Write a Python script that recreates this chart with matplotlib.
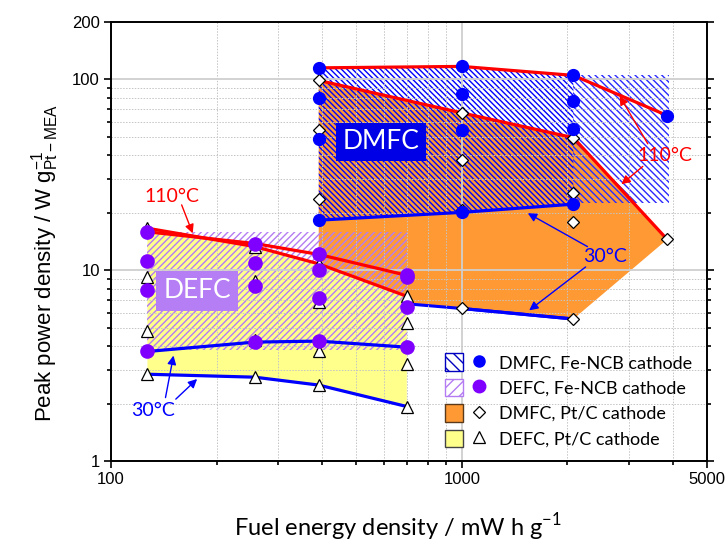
import matplotlib
matplotlib.use('Agg')
import matplotlib.pyplot as plt
from matplotlib.patches import Polygon, Patch
from matplotlib.lines import Line2D
from matplotlib.legend_handler import HandlerTuple
from matplotlib.ticker import FixedLocator, FixedFormatter, NullFormatter

# ---------------- data ----------------
# DEFC (ethanol) fuel energy densities, mW h g-1
defc_x = [127, 257, 391, 697]
defc_fe_110 = [15.9, 13.8, 12.1, 9.4]
defc_fe_mid1 = [11.2, 10.9, 10.0, 9.2]
defc_fe_mid2 = [7.85, 8.27, 7.16, 6.38]
defc_fe_30 = [3.75, 4.20, 4.25, 3.95]
defc_pt_110 = [16.6, 13.3, 10.8, 7.3]
defc_pt_mid1 = [9.2, 8.75, 6.83, 5.26]
defc_pt_mid2 = [4.83, 4.32, 3.79, 3.21]
defc_pt_30 = [2.85, 2.75, 2.50, 1.93]
defc_fe_band = [3.8, 15.9]          # hatched Fe-NCB DEFC range

# DMFC (methanol)
dmfc_x = [391, 1000, 2080, 3850]
dmfc_fe_110 = [115, 117, 105, 64.7]
dmfc_fe_mid1 = [80, 84, 77]
dmfc_fe_mid2 = [49, 54.6, 54.8]
dmfc_fe_30 = [18.3, 20.1, 22.2]
dmfc_pt_110 = [98.8, 66.8, 49.5, 14.5]
dmfc_pt_mid1 = [54.3, 38, 25.5]
dmfc_pt_mid2 = [23.7, 20.7, 17.8]
dmfc_pt_30 = [7.3, 6.3, 5.55]
dmfc_fe_band_x = [2080, 3900]
dmfc_fe_band_y = [22.4, 106]

xticks_major = [100, 1000, 5000]
xticks_minor = [200, 300, 400, 500, 600, 700, 800, 900, 2000, 3000, 4000]
yticks_major = [1, 10, 100, 200]
yticks_minor = [2, 3, 4, 5, 6, 7, 8, 9, 20, 30, 40, 50, 60, 70, 80, 90]

# ---------------- style ----------------
BLUE = '#0000ff'
RED = '#ff0000'
PURPLE = '#8000ff'
PURPLE_HATCH = '#b47cf2'
ORANGE = '#ff9933'
YELLOW = '#ffff8c'
CAL = ['Lato', 'DejaVu Sans']
ARI = ['Liberation Sans', 'DejaVu Sans']


class HatchPolygon(Polygon):
    """Polygon whose hatch is drawn with its own line width."""
    def __init__(self, *args, hatch_lw=1.0, **kwargs):
        super().__init__(*args, **kwargs)
        self._hlw = hatch_lw

    def draw(self, renderer):
        with plt.rc_context({'hatch.linewidth': self._hlw}):
            super().draw(renderer)


fig = plt.figure(figsize=(7.28, 5.43), dpi=100)
ax = fig.add_axes([111 / 728, 1 - 461 / 543, 596 / 728, 439 / 543])
ax.set_xscale('log')
ax.set_yscale('log')
ax.set_xlim(100, 5000)
ax.set_ylim(1, 200)


def hatched_polygon(pts, hcolor, hatch, hlw, z):
    p = HatchPolygon(pts, closed=True, facecolor='none', edgecolor=hcolor,
                     hatch=hatch, linewidth=0, zorder=z, hatch_lw=hlw)
    ax.add_patch(p)
    return p


# orange DMFC Pt/C region
orange_pts = [(x, y) for x, y in zip(dmfc_x, dmfc_pt_110)] + \
             [(x, y) for x, y in zip(dmfc_x[:3][::-1], dmfc_pt_30[::-1])]
ax.add_patch(Polygon(orange_pts, closed=True, facecolor=ORANGE, edgecolor='none', zorder=0.5))

# DMFC Fe-NCB hatched regions
dense_pts = [(x, y) for x, y in zip(dmfc_x[:3], dmfc_fe_110[:3])] + \
            [(x, y) for x, y in zip(dmfc_x[:3][::-1], dmfc_fe_30[::-1])]
hatched_polygon(dense_pts, BLUE, '\\\\\\\\\\\\', 1.25, 0.6)
bx0, bx1 = dmfc_fe_band_x
by0, by1 = dmfc_fe_band_y
hatched_polygon([(bx0, by0), (bx1, by0), (bx1, by1), (bx0, by1)], '#2a2aff',
                '\\\\\\\\\\', 0.6, 0.6)

# hidden part: DMFC Pt/C 30 C line (under DEFC fills)
ax.plot(dmfc_x[:3], dmfc_pt_30, color=BLUE, lw=2.2, zorder=0.7)

# yellow DEFC Pt/C region
yellow_pts = [(x, y) for x, y in zip(defc_x, defc_pt_110)] + \
             [(x, y) for x, y in zip(defc_x[::-1], defc_pt_30[::-1])]
ax.add_patch(Polygon(yellow_pts, closed=True, facecolor=YELLOW, edgecolor='none', zorder=0.8))

# purple hatched DEFC Fe-NCB region
px0, px1 = defc_x[0], defc_x[-1]
py0, py1 = defc_fe_band
hatched_polygon([(px0, py0), (px1, py0), (px1, py1), (px0, py1)], PURPLE_HATCH,
                '/////', 0.9, 0.9)

# grid
ax.set_axisbelow('line')
ax.xaxis.set_major_locator(FixedLocator(xticks_major))
ax.xaxis.set_minor_locator(FixedLocator(xticks_minor))
ax.xaxis.set_major_formatter(FixedFormatter([str(v) for v in xticks_major]))
ax.xaxis.set_minor_formatter(NullFormatter())
ax.yaxis.set_major_locator(FixedLocator(yticks_major))
ax.yaxis.set_minor_locator(FixedLocator(yticks_minor))
ax.yaxis.set_major_formatter(FixedFormatter([str(v) for v in yticks_major]))
ax.yaxis.set_minor_formatter(NullFormatter())
ax.grid(True, which='major', color='#cfcfcf', lw=1.3, ls='-')
ax.grid(True, which='minor', color='#c4c4c4', lw=0.7, ls=(0, (1.5, 1.5)))

# lines
ax.plot(dmfc_x, dmfc_fe_110, color=RED, lw=2.3, zorder=2)
ax.plot(dmfc_x, dmfc_pt_110, color=RED, lw=2.3, zorder=2)
ax.plot(dmfc_x[:3], dmfc_fe_30, color=BLUE, lw=2.3, zorder=2)
ax.plot(dmfc_x[1:3], dmfc_pt_30[1:], color=BLUE, lw=2.3, zorder=2)
ax.plot(defc_x, defc_fe_110, color=RED, lw=2.3, zorder=2)
ax.plot(defc_x, defc_pt_110, color=RED, lw=2.3, zorder=2)
ax.plot(defc_x, defc_fe_30, color=BLUE, lw=2.3, zorder=2)
ax.plot(defc_x, defc_pt_30, color=BLUE, lw=2.3, zorder=2)

# markers
tri_kw = dict(ls='none', marker='^', ms=9, mfc='white', mec='black', mew=0.9, zorder=3)
dia_kw = dict(ls='none', marker='D', ms=6.5, mfc='white', mec='black', mew=0.9, zorder=3)
for ys in (defc_pt_110, defc_pt_mid1, defc_pt_mid2, defc_pt_30):
    ax.plot(defc_x, ys, **tri_kw)
for ys in (defc_fe_110, defc_fe_mid1, defc_fe_mid2, defc_fe_30):
    ax.plot(defc_x, ys, ls='none', marker='o', ms=9.5, color=PURPLE, mec=PURPLE, zorder=4)
for ys in (dmfc_pt_110, dmfc_pt_mid1, dmfc_pt_mid2):
    ax.plot(dmfc_x[:len(ys)], ys, **dia_kw)
ax.plot(dmfc_x[1:3], dmfc_pt_30[1:], **dia_kw)
for ys in (dmfc_fe_110, dmfc_fe_mid1, dmfc_fe_mid2, dmfc_fe_30):
    ax.plot(dmfc_x[:len(ys)], ys, ls='none', marker='o', ms=8.5, color=BLUE, zorder=4)

# label boxes
ax.text(588, 47, 'DMFC', color='white', fontsize=19, family=CAL, ha='center', va='center',
        zorder=6, bbox=dict(boxstyle='square,pad=0.26', fc='#0000e6', ec='none'))
ax.text(176, 7.8, 'DEFC', color='white', fontsize=19, family=CAL, ha='center', va='center',
        zorder=6, bbox=dict(boxstyle='square,pad=0.28', fc='#b57ef4', ec='none'))

# temperature annotations
arw_r = dict(arrowstyle='-|>', color=RED, lw=1.0, mutation_scale=13, shrinkA=0, shrinkB=0)
arw_b = dict(arrowstyle='-|>', color=BLUE, lw=1.0, mutation_scale=13, shrinkA=0, shrinkB=0)
ax.text(3800, 40, '110°C', color=RED, fontsize=14, family=CAL, ha='center', va='center', zorder=7)
ax.annotate('', xy=(2818, 81.8), xytext=(3390, 46), arrowprops=arw_r, zorder=7)
ax.annotate('', xy=(2850, 28.2), xytext=(3280, 35), arrowprops=arw_r, zorder=7)

ax.text(149, 24.4, '110°C', color=RED, fontsize=14, family=CAL, ha='center', va='center', zorder=7)
ax.annotate('', xy=(171, 15.6), xytext=(159, 22), arrowprops=arw_r, zorder=7)

ax.text(2560, 11.8, '30°C', color=BLUE, fontsize=14, family=CAL, ha='center', va='center', zorder=7)
ax.annotate('', xy=(1542, 19.9), xytext=(2281, 13.3), arrowprops=arw_b, zorder=7)
ax.annotate('', xy=(1556, 6.16), xytext=(2254, 10.4), arrowprops=arw_b, zorder=7)

ax.text(132, 1.84, '30°C', color=BLUE, fontsize=14, family=CAL, ha='center', va='center', zorder=7)
ax.annotate('', xy=(150.7, 3.57), xytext=(143, 2.15), arrowprops=arw_b, zorder=7)
ax.annotate('', xy=(176, 2.69), xytext=(153, 2.11), arrowprops=arw_b, zorder=7)

# axes styling
for s in ax.spines.values():
    s.set_linewidth(1.4)
ax.tick_params(which='both', direction='out', top=False, right=True, width=1.2)
ax.tick_params(which='major', length=5)
ax.tick_params(which='minor', length=3)
ax.tick_params(axis='both', which='major', labelsize=12, pad=3)
for lab in ax.get_xticklabels() + ax.get_yticklabels():
    lab.set_family(ARI)

ax.set_xlabel('Fuel energy density / mW h g$^{\\mathregular{-1}}$', fontsize=17, family=CAL,
              labelpad=17)
ax.set_ylabel('Peak power density / W g$^{\\mathregular{-1}}_{\\mathregular{Pt-MEA}}$', fontsize=16,
              family=ARI, labelpad=8)
ax.xaxis.label.set_x(0.482)
ax.yaxis.label.set_y(0.45)

# legend
lp1 = Patch(facecolor='white', edgecolor='#0000c0', hatch='\\\\\\', lw=1.0)
lp2 = Patch(facecolor='white', edgecolor=PURPLE_HATCH, hatch='///', lw=1.0)
lp3 = Patch(facecolor=ORANGE, edgecolor='#5a3a1a', lw=1.0)
lp4 = Patch(facecolor=YELLOW, edgecolor='#444444', lw=1.0)
lm1 = Line2D([], [], ls='none', marker='o', ms=8, color=BLUE)
lm2 = Line2D([], [], ls='none', marker='o', ms=9, color=PURPLE)
lm3 = Line2D([], [], ls='none', marker='D', ms=6, mfc='white', mec='black', mew=0.9)
lm4 = Line2D([], [], ls='none', marker='^', ms=9, mfc='white', mec='black', mew=0.9)
leg = ax.legend([(lp1, lm1), (lp2, lm2), (lp3, lm3), (lp4, lm4)],
                ['DMFC, Fe-NCB cathode', 'DEFC, Fe-NCB cathode', 'DMFC, Pt/C cathode',
                 'DEFC, Pt/C cathode'],
                handler_map={tuple: HandlerTuple(ndivide=None, pad=0.4)},
                loc='upper left', bbox_to_anchor=(0.56, 0.245), frameon=False,
                prop={'family': CAL, 'size': 13}, handlelength=2.4, handleheight=1.1,
                handletextpad=0.6, labelspacing=0.42, borderpad=0, borderaxespad=0)
leg.set_zorder(8)

fig.savefig('out.png', dpi=100)
